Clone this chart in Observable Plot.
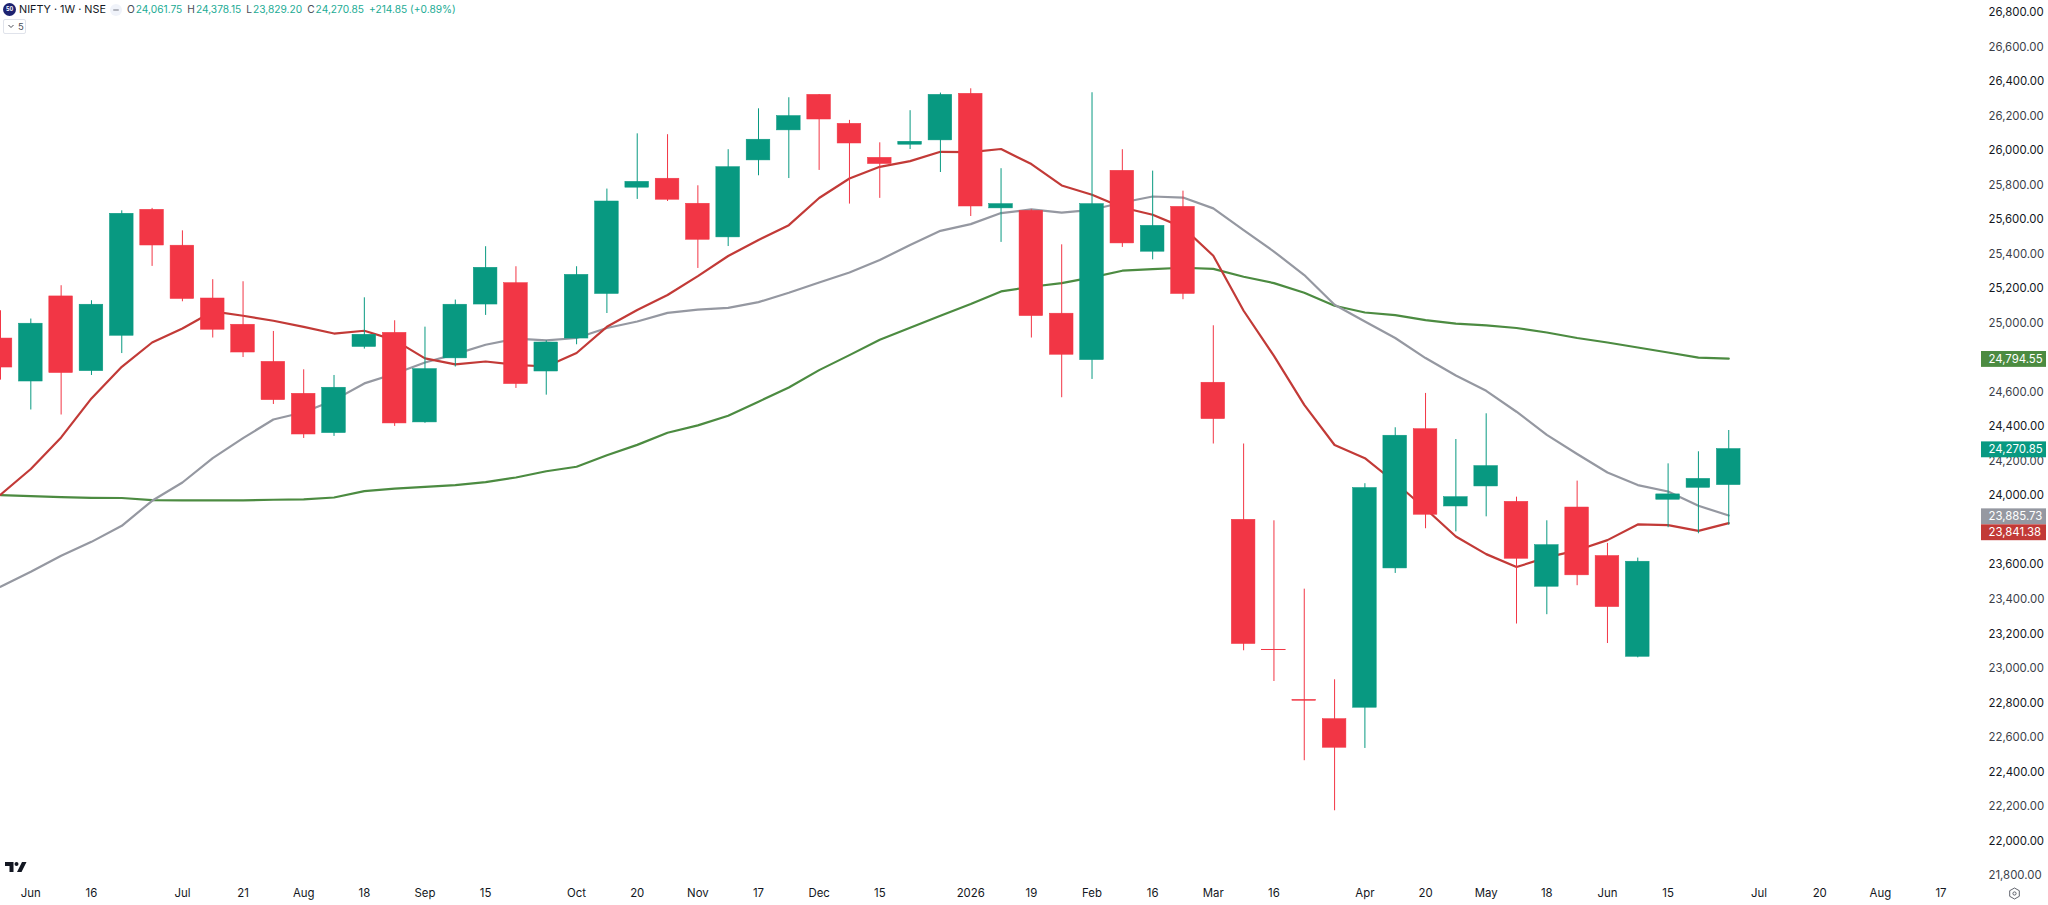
<!DOCTYPE html>
<html>
<head>
<meta charset="utf-8">
<title>NIFTY 1W NSE</title>
<script src="https://cdn.jsdelivr.net/npm/d3@7"></script>
<script src="https://cdn.jsdelivr.net/npm/@observablehq/plot@0.6"></script>
<style>
html,body{margin:0;padding:0;background:#fff;width:2048px;height:905px;overflow:hidden;font-family:Inter,"Liberation Sans",sans-serif;}
#wrap{position:relative;width:2048px;height:905px;}
#wrap>svg{display:block;}
#legend{position:absolute;left:3px;top:3px;height:13px;display:flex;align-items:center;font-size:10.2px;line-height:13px;color:#131722;white-space:nowrap;}
#legend .logo{width:13px;height:13px;border-radius:50%;background:#1d2270;color:#fff;font-size:5.5px;font-weight:700;display:inline-flex;align-items:center;justify-content:center;margin-right:3px;}
#legend .sym{font-size:10.8px;width:91px;}
#legend .pill{width:12px;height:12px;border-radius:50%;background:#f0f3fa;display:inline-flex;align-items:center;justify-content:center;margin-right:5px;}
#legend .pill i{display:block;width:6px;height:2px;border-radius:1px;background:#b2b5be;}
#legend .k{color:#4a4d57;margin-right:1px;}
#legend .v{color:#22ab94;}
#legend .g{display:inline-block;margin-right:5px;}
#fold{position:absolute;left:3px;top:19px;width:23px;height:15px;box-sizing:border-box;border:1px solid #e0e3eb;border-radius:2px;font-size:9.5px;line-height:13px;color:#4a4d57;padding-left:14px;background:#fff;}
#fold svg{position:absolute;left:4px;top:4px;}
#tv{position:absolute;left:5px;top:861px;}
#gear{position:absolute;left:2008px;top:887px;}
</style>
</head>
<body>
<div id="wrap">
  <div id="legend">
    <span class="logo">50</span><span class="sym">NIFTY · 1W · NSE</span><span class="pill"><i></i></span>
    <span class="g"><span class="k">O</span><span class="v">24,061.75</span></span>
    <span class="g"><span class="k">H</span><span class="v">24,378.15</span></span>
    <span class="g"><span class="k">L</span><span class="v">23,829.20</span></span>
    <span class="g"><span class="k">C</span><span class="v">24,270.85</span></span>
    <span class="v">+214.85 (+0.89%)</span>
  </div>
  <div id="fold"><svg width="6" height="5" viewBox="0 0 6 5"><path d="M0.5 1 L3 3.5 L5.5 1" fill="none" stroke="#4a4d57" stroke-width="1"/></svg>5</div>
  <svg id="tv" width="22" height="12" viewBox="0 0 22 12"><path d="M0 1H8.5V11H4.5V5H0Z M17 1H21.5L16.5 11H12Z" fill="#131722"/><circle cx="11.5" cy="3" r="2" fill="#131722"/></svg>
  <svg id="gear" width="13" height="13" viewBox="0 0 13 13"><path d="M6.5 1 L11.3 3.7 V9.3 L6.5 12 L1.7 9.3 V3.7 Z" fill="none" stroke="#50535e" stroke-width="0.9"/><circle cx="6.5" cy="6.5" r="1.6" fill="none" stroke="#50535e" stroke-width="0.9"/></svg>
</div>
<script>
const opens  = [24911,24662,25155,24722,24927,25657,25449,25143,24991,24776,24591,24363,24862,24944,24425,24796,25108,25232,24720,24911,25169,25785,25837,25692,25497,25943,26117,26323,26155,25958,26034,26059,26329,25665,25651,25055,24786,25883,25414,25674,24655,23861,23108,22818,22706,22772,23579,24386,23938,24054,23965,23473,23932,23651,23067,23977,24046,24061.75];
const highs  = [25072,25024,25217,25130,25651,25665,25535,25252,25240,24952,24730,24697,25147,25014,24977,25134,25443,25327,24898,25327,25777,26097,26092,25796,26005,26242,26306,26325,26175,26045,26231,26333,26358,25895,25657,25454,26335,26005,25881,25765,24985,24300,23855,23459,22934,24070,24394,24593,24326,24475,23992,23855,24085,23724,23639,24185,24255,24378.15];
const lows   = [24670,24497,24468,24697,24824,25329,25124,24914,24801,24529,24332,24344,24850,24402,24420,24746,25045,24622,24583,24875,25056,25717,25705,25317,25444,25854,25838,25885,25690,25723,26006,25873,25618,25468,24914,24568,24674,25439,25367,25136,24300,23102,22924,22465,22175,22536,23550,23809,23791,23878,23257,23311,23479,23144,23061,23815,23780,23829.20];
const closes = [24743,24997,24711,25107,25634,25450,25140,24962,24830,24554,24355,24626,24933,24419,24734,25107,25321,24647,24888,25280,25705,25819,25715,25483,25904,26063,26200,26180,26041,25922,26051,26323,25676,25690,25041,24817,25690,25462,25564,25169,24444,23141,23105,22812,22540,24045,24348,23890,23992,24172,23635,23714,23539,23355,23618,24008,24098,24270.85];

const maRed = [24006,24155,24338,24564,24747,24888,24969,25068,25043,25014,24979,24940,24956,24902,24796,24761,24778,24759,24749,24827,24979,25076,25163,25273,25389,25482,25568,25725,25838,25906,25939,25993,25991,26009,25922,25798,25744,25670,25628,25555,25391,25072,24811,24527,24294,24218,24077,23925,23764,23662,23587,23643,23684,23743,23834,23830,23797,23841.38];
const maGray = [23473,23560,23652,23733,23826,23971,24077,24218,24334,24442,24484,24554,24651,24707,24772,24821,24875,24910,24900,24914,24972,25010,25060,25078,25089,25122,25176,25236,25294,25366,25453,25535,25574,25638,25659,25640,25657,25699,25734,25728,25665,25539,25415,25279,25107,25010,24914,24798,24697,24608,24487,24353,24242,24135,24062,24025,23942,23885.73];
const maGreen = [24004,23998,23992,23988,23987,23975,23973,23973,23973,23977,23979,23990,24027,24041,24052,24062,24079,24106,24142,24168,24235,24295,24365,24408,24464,24545,24627,24728,24815,24904,24973,25043,25111,25184,25211,25232,25265,25304,25313,25321,25315,25269,25232,25176,25101,25062,25047,25018,24997,24987,24972,24946,24914,24888,24859,24830,24800,24794.55];

const yTicks = [26800,26600,26400,26200,26000,25800,25600,25400,25200,25000,24600,24400,24200,24000,23600,23400,23200,23000,22800,22600,22400,22200,22000,21800];
const boldTicks = [26800,26400,26000,25600,25200,24400,24000,23600,23200,22800,22400,22000];

const timeIdx   = [1,3,6,8,10,12,14,16,19,21,23,25,27,29,32,34,36,38,40,42,45,47,49,51,53,55,58,60,62,64];
const timeLabel = ["Jun","16","Jul","21","Aug","18","Sep","15","Oct","20","Nov","17","Dec","15","2026","19","Feb","16","Mar","16","Apr","20","May","18","Jun","15","Jul","20","Aug","17"];

const badgePrice = [24794.55,24270.85,23885.73,23841.38];
const badgeColor = ["#4c8b41","#089981","#9598a1","#c23a37"];
const badgeShift = [0.8,0.8,1.3,9.6];

const UP = "#089981", DOWN = "#f23645";
const candles = opens.map((o,i)=>({i,o,h:highs[i],l:lows[i],c:closes[i],col:closes[i]>=o?UP:DOWN}));
const line = arr => arr.map((v,i)=>({i,v}));
const badges = badgePrice.map((v,k)=>({v,col:badgeColor[k],dy:badgeShift[k]}));
const fmt = d3.format(",.2f");
const pxPer = 30.32, span = 2048/pxPer;
const badgeL = 1981/pxPer, badgeR = 2046/pxPer;

const marks = [
  Plot.line(line(maGreen),{x:"i",y:"v",stroke:"#4c8b41",strokeWidth:2.2}),
  Plot.line(line(maGray),{x:"i",y:"v",stroke:"#9598a1",strokeWidth:2.2}),
  Plot.line(line(maRed),{x:"i",y:"v",stroke:"#c23a37",strokeWidth:2.2}),
  Plot.ruleX(candles,{x:"i",y1:"l",y2:"h",stroke:"col",strokeWidth:1}),
  Plot.rect(candles,{x1:d=>d.i-0.39,x2:d=>d.i+0.39,y1:"o",y2:"c",fill:"col",stroke:"col",strokeWidth:0.5}),
  Plot.text(yTicks,{y:d=>d,text:d=>fmt(d),frameAnchor:"left",dx:1988,textAnchor:"start",lineAnchor:"middle",fontSize:11.4,
    fontWeight:d=>boldTicks.includes(d)?700:400,fill:d=>boldTicks.includes(d)?"#131722":"#3c3f4a"}),
];
for (const b of badges) {
  marks.push(Plot.rect([b],{x1:()=>badgeL,x2:()=>badgeR,y1:d=>d.v-46,y2:d=>d.v+46,fill:"col",dy:b.dy}));
  marks.push(Plot.text([b],{y:"v",text:d=>fmt(d.v),frameAnchor:"left",dx:1988,textAnchor:"start",lineAnchor:"middle",fontSize:11.4,fill:"#ffffff",dy:b.dy}));
}
marks.push(Plot.text(timeIdx,{x:d=>d,text:(d,k)=>timeLabel[k],frameAnchor:"bottom",dy:-12,lineAnchor:"middle",textAnchor:"middle",fontSize:11.4,
  fontWeight:(d,k)=>timeLabel[k]==="2026"?700:400,fill:"#131722"}));

const chart = Plot.plot({
  width:2048,height:905,margin:0,
  x:{axis:null,domain:[0,span],range:[0,2048]},
  y:{axis:null,domain:[21800,26800],range:[875,12]},
  color:{type:"identity"},
  style:{fontFamily:"Inter,'Liberation Sans',sans-serif",background:"#fff",overflow:"hidden"},
  marks
});
document.getElementById("wrap").prepend(chart);
</script>
</body>
</html>
